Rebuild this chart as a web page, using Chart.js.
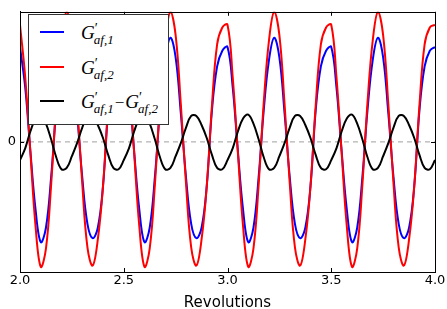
<!DOCTYPE html>
<html>
<head>
<meta charset="utf-8">
<script src="https://cdn.jsdelivr.net/npm/chart.js@4.4.1/dist/chart.umd.min.js"></script>
<style>
  html, body { margin:0; padding:0; background:#fff; }
  #wrap { position:relative; width:447px; height:309px; }
  #legendBox { position:absolute; left:28px; top:14px; width:139px; height:109px; border:1px solid #333; background:#fff; }
  .swatch { position:absolute; left:11px; width:24px; height:2px; }
  .lbl { position:absolute; left:52px; white-space:nowrap; font-family:"Liberation Serif","DejaVu Serif",serif; font-style:italic; font-size:19px; line-height:1; color:#000; }
  .lbl sup { font-size:14px; font-style:normal; vertical-align:6px; }
  .lbl sub { font-size:13px; vertical-align:-5px; margin-left:-4px; }
  .lbl .op { font-style:normal; font-size:17px; margin:0 1px; }
</style>
</head>
<body>
<div id="wrap">
  <canvas id="chart" width="447" height="309"></canvas>
  <div id="legendBox"></div>
</div>
<script>
// x positions (revolutions)
const revs = [
  2.000, 2.025, 2.050, 2.075, 2.100, 2.125, 2.150, 2.175, 2.200, 2.225, 2.250, 2.275, 2.300, 2.325, 2.350, 2.375, 2.400, 2.425, 2.450, 2.475,
  2.500, 2.525, 2.550, 2.575, 2.600, 2.625, 2.650, 2.675, 2.700, 2.725, 2.750, 2.775, 2.800, 2.825, 2.850, 2.875, 2.900, 2.925, 2.950, 2.975,
  3.000, 3.025, 3.050, 3.075, 3.100, 3.125, 3.150, 3.175, 3.200, 3.225, 3.250, 3.275, 3.300, 3.325, 3.350, 3.375, 3.400, 3.425, 3.450, 3.475,
  3.500, 3.525, 3.550, 3.575, 3.600, 3.625, 3.650, 3.675, 3.700, 3.725, 3.750, 3.775, 3.800, 3.825, 3.850, 3.875, 3.900, 3.925, 3.950, 3.975,
  4.000
];

const gAf1 = [
  0.73, 0.42, -0.07, -0.52, -0.77, -0.66, -0.27, 0.25, 0.63, 0.80, 0.65, 0.22, -0.27, -0.63, -0.74, -0.66, -0.34, 0.24, 0.58, 0.70,
  0.73, 0.42, -0.07, -0.52, -0.77, -0.66, -0.27, 0.25, 0.63, 0.80, 0.65, 0.22, -0.27, -0.63, -0.74, -0.66, -0.34, 0.24, 0.58, 0.70,
  0.73, 0.42, -0.07, -0.52, -0.77, -0.66, -0.27, 0.25, 0.63, 0.80, 0.65, 0.22, -0.27, -0.63, -0.74, -0.66, -0.34, 0.24, 0.58, 0.70,
  0.73, 0.42, -0.07, -0.52, -0.77, -0.66, -0.27, 0.25, 0.63, 0.80, 0.65, 0.22, -0.27, -0.63, -0.74, -0.66, -0.34, 0.24, 0.58, 0.70,
  0.73
];

const gAf2 = [
  0.90, 0.50, -0.08, -0.65, -0.96, -0.82, -0.33, 0.31, 0.78, 1.00, 0.82, 0.29, -0.32, -0.81, -0.95, -0.75, -0.34, 0.28, 0.75, 0.88,
  0.90, 0.50, -0.08, -0.65, -0.96, -0.82, -0.33, 0.31, 0.78, 1.00, 0.82, 0.29, -0.32, -0.81, -0.95, -0.75, -0.34, 0.28, 0.75, 0.88,
  0.90, 0.50, -0.08, -0.65, -0.96, -0.82, -0.33, 0.31, 0.78, 1.00, 0.82, 0.29, -0.32, -0.81, -0.95, -0.75, -0.34, 0.28, 0.75, 0.88,
  0.90, 0.50, -0.08, -0.65, -0.96, -0.82, -0.33, 0.31, 0.78, 1.00, 0.82, 0.29, -0.32, -0.81, -0.95, -0.75, -0.34, 0.28, 0.75, 0.88,
  0.90
];

const gDiff = [
  -0.14, -0.05, 0.08, 0.18, 0.21, 0.14, 0.02, -0.12, -0.21, -0.20, -0.11, -0.01, 0.11, 0.20, 0.20, 0.13, 0.03, -0.10, -0.20, -0.21,
  -0.14, -0.05, 0.08, 0.18, 0.21, 0.14, 0.02, -0.12, -0.21, -0.20, -0.11, -0.01, 0.11, 0.20, 0.20, 0.13, 0.03, -0.10, -0.20, -0.21,
  -0.14, -0.05, 0.08, 0.18, 0.21, 0.14, 0.02, -0.12, -0.21, -0.20, -0.11, -0.01, 0.11, 0.20, 0.20, 0.13, 0.03, -0.10, -0.20, -0.21,
  -0.14, -0.05, 0.08, 0.18, 0.21, 0.14, 0.02, -0.12, -0.21, -0.20, -0.11, -0.01, 0.11, 0.20, 0.20, 0.13, 0.03, -0.10, -0.20, -0.21,
  -0.14
];

const xTicks = [2.0, 2.5, 3.0, 3.5, 4.0];
const yTicks = [0];
const xRange = [2, 4];
const zeroLine = [0, 0];

// legend terms: [sub] per G' term
const seriesNames = ["G′af,1", "G′af,2", "G′af,1−G′af,2"];
const seriesTerms = [["af,1"], ["af,2"], ["af,1", "af,2"]];

const pts = (ys) => revs.map((x, i) => ({ x: x, y: ys[i] }));

// frame + inward ticks, matplotlib style
const framePlugin = {
    id: 'frame',
    afterDraw(chart) {
        const { ctx, chartArea: a, scales } = chart;
        ctx.save();
        ctx.strokeStyle = '#000';
        ctx.lineWidth = 1;
        ctx.strokeRect(Math.round(a.left) + 0.5, Math.round(a.top) + 0.5, Math.round(a.right - a.left), Math.round(a.bottom - a.top));
        ctx.beginPath();
        xTicks.forEach(v => {
            const px = Math.round(scales.x.getPixelForValue(v)) + 0.5;
            ctx.moveTo(px, a.bottom); ctx.lineTo(px, a.bottom - 4);
            ctx.moveTo(px, a.top); ctx.lineTo(px, a.top + 4);
        });
        yTicks.forEach(v => {
            const py = Math.round(scales.y.getPixelForValue(v)) + 0.5;
            ctx.moveTo(a.left, py); ctx.lineTo(a.left + 4, py);
            ctx.moveTo(a.right, py); ctx.lineTo(a.right - 4, py);
        });
        ctx.stroke();
        ctx.restore();
    }
};

const chart = new Chart(document.getElementById('chart').getContext('2d'), {
    type: 'line',
    data: {
        datasets: [
            { label: seriesNames[0], data: pts(gAf1), borderColor: '#0000ff', borderWidth: 2, pointRadius: 0, tension: 0.4, order: 3 },
            { label: seriesNames[1], data: pts(gAf2), borderColor: '#ff0000', borderWidth: 2, pointRadius: 0, tension: 0.4, order: 2 },
            { label: seriesNames[2], data: pts(gDiff), borderColor: '#000000', borderWidth: 2, pointRadius: 0, tension: 0.4, order: 1 },
            { label: 'zero', data: xRange.map((x, i) => ({ x: x, y: zeroLine[i] })), borderColor: '#a0a0a0', borderWidth: 1, borderDash: [5, 4], pointRadius: 0, order: 4 }
        ]
    },
    options: {
        responsive: false,
        animation: false,
        layout: { padding: { left: 0, top: 7, right: 12, bottom: 0 } },
        plugins: { legend: { display: false }, tooltip: { enabled: false } },
        scales: {
            x: {
                type: 'linear', min: xRange[0], max: xRange[1],
                afterBuildTicks: s => { s.ticks = xTicks.map(v => ({ value: v })); },
                ticks: { callback: v => Number(v).toFixed(1), color: '#000', font: { family: 'DejaVu Sans', size: 13 }, padding: 1, maxRotation: 0 },
                grid: { display: false, drawTicks: false },
                border: { display: true, color: '#000' },
                title: { display: true, text: 'Revolutions', color: '#000', font: { family: 'DejaVu Sans', size: 15 }, padding: { top: 0, bottom: -3 } },
                afterFit: s => { s.height = 37; }
            },
            y: {
                type: 'linear', min: -1, max: 1,
                afterBuildTicks: s => { s.ticks = yTicks.map(v => ({ value: v })); },
                ticks: { callback: v => String(v), color: '#000', font: { family: 'DejaVu Sans', size: 13 }, padding: 4 },
                grid: { display: false, drawTicks: false },
                border: { display: true, color: '#000' },
                afterFit: s => { s.width = 20; }
            }
        }
    },
    plugins: [framePlugin]
});

// HTML legend (matplotlib-like box)
const legendBox = document.getElementById('legendBox');
const rowY = [17, 52, 86];
chart.data.datasets.slice(0, 3).forEach((ds, i) => {
    const sw = document.createElement('div');
    sw.className = 'swatch';
    sw.style.top = (rowY[i] - 1) + 'px';
    sw.style.background = ds.borderColor;
    legendBox.appendChild(sw);

    const lb = document.createElement('div');
    lb.className = 'lbl';
    lb.style.top = (rowY[i] - 10) + 'px';
    lb.title = ds.label;
    lb.innerHTML = seriesTerms[i].map(t => `G<sup>′</sup><sub>${t}</sub>`).join('<span class="op">−</span>');
    legendBox.appendChild(lb);
});
</script>
</body>
</html>
